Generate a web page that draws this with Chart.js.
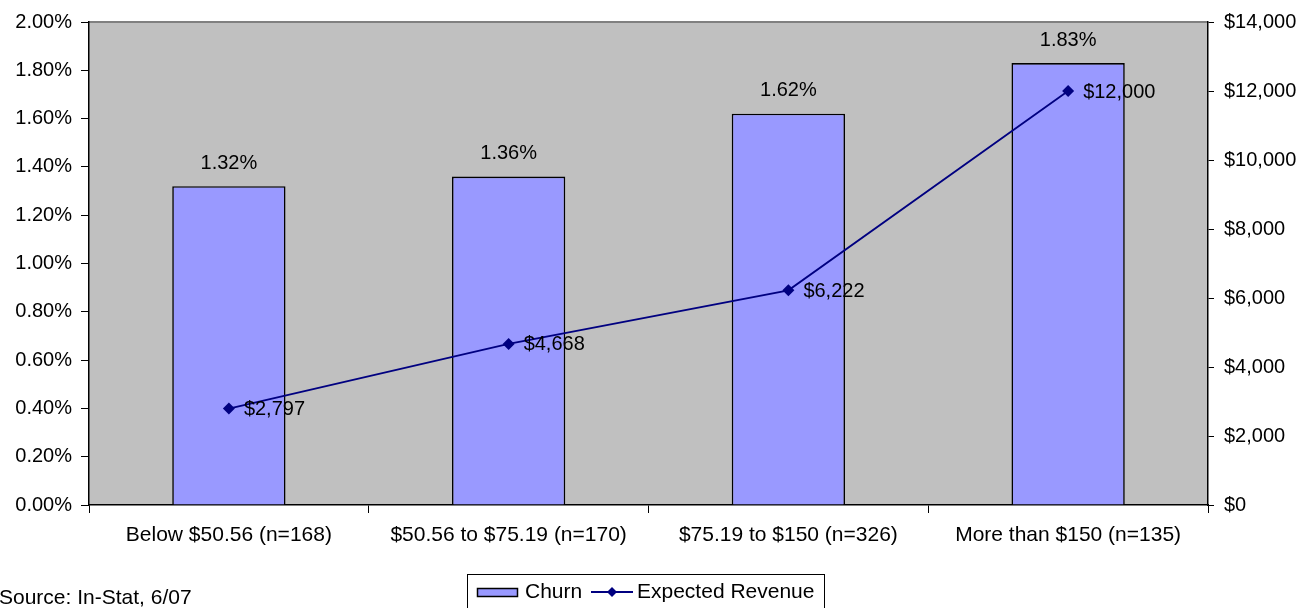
<!DOCTYPE html>
<html>
<head>
<meta charset="utf-8">
<script src="https://cdn.jsdelivr.net/npm/chart.js@4.4.1/dist/chart.umd.min.js"></script>
<style>
  html, body { margin: 0; padding: 0; background: #fff; }
  #wrap { width: 1312px; height: 608px; position: relative; }
</style>
</head>
<body>
<div id="wrap"><canvas id="chartChurn" width="1312" height="608"></canvas></div>
<script>
// dados do gráfico
const categories = ['Below $50.56 (n=168)', '$50.56 to $75.19 (n=170)', '$75.19 to $150 (n=326)', 'More than $150 (n=135)'];
const churnPct = [1.32, 1.36, 1.62, 1.83];
const expectedRevenue = [2797, 4668, 6222, 12000];
const sourceNote = 'Source: In-Stat, 6/07';

const FONT = 'Liberation Sans, Arial, sans-serif';
const BAR_COLOR = '#9999FF';
const LINE_COLOR = '#000080';

// fundo cinza da área de plotagem
const plotBackground = {
    id: 'plotBackground',
    beforeDraw(chart) {
        const { ctx, chartArea: a } = chart;
        ctx.save();
        ctx.fillStyle = '#C0C0C0';
        ctx.fillRect(a.left, a.top, a.right - a.left, a.bottom - a.top);
        ctx.strokeStyle = '#808080';
        ctx.lineWidth = 2;
        ctx.beginPath();
        ctx.moveTo(a.left, a.top);
        ctx.lineTo(a.right, a.top);
        ctx.stroke();
        ctx.restore();
    }
};

// rótulos de valores
const valueLabels = {
    id: 'valueLabels',
    afterDatasetsDraw(chart) {
        const { ctx } = chart;
        ctx.save();
        ctx.fillStyle = '#000';
        ctx.font = '20px ' + FONT;
        ctx.textBaseline = 'middle';

        const barMeta = chart.getDatasetMeta(0);
        ctx.textAlign = 'center';
        barMeta.data.forEach((el, i) => {
            ctx.fillText(churnPct[i].toFixed(2) + '%', el.x, el.y - 23);
        });

        const lineMeta = chart.getDatasetMeta(1);
        ctx.textAlign = 'left';
        lineMeta.data.forEach((el, i) => {
            ctx.fillText('$' + expectedRevenue[i].toLocaleString('en-US'), el.x + 15, el.y + 1);
        });
        ctx.restore();
    }
};

// legenda com moldura + nota de fonte
const boxedLegend = {
    id: 'boxedLegend',
    afterDraw(chart) {
        const { ctx } = chart;
        ctx.save();
        ctx.strokeStyle = '#000';
        ctx.lineWidth = 1;
        ctx.strokeRect(467.5, 574.5, 357, 40);

        const cy = 592;
        ctx.fillStyle = BAR_COLOR;
        ctx.fillRect(477, 588, 41, 9);
        ctx.lineWidth = 1.5;
        ctx.strokeRect(477.5, 588.5, 40, 8);

        ctx.fillStyle = '#000';
        ctx.font = '21px ' + FONT;
        ctx.textBaseline = 'middle';
        ctx.textAlign = 'left';
        ctx.fillText('Churn', 525, cy);

        ctx.strokeStyle = LINE_COLOR;
        ctx.lineWidth = 1.8;
        ctx.beginPath();
        ctx.moveTo(591, cy);
        ctx.lineTo(633, cy);
        ctx.stroke();
        ctx.fillStyle = LINE_COLOR;
        ctx.beginPath();
        ctx.moveTo(612, cy - 5);
        ctx.lineTo(617, cy);
        ctx.lineTo(612, cy + 5);
        ctx.lineTo(607, cy);
        ctx.closePath();
        ctx.fill();

        ctx.fillStyle = '#000';
        ctx.fillText('Expected Revenue', 637, cy);

        ctx.font = '21px ' + FONT;
        ctx.fillText(sourceNote, -1, 598);
        ctx.restore();
    }
};

new Chart(document.getElementById('chartChurn'), {
    type: 'bar',
    data: {
        labels: categories,
        datasets: [
            {
                type: 'bar',
                label: 'Churn',
                data: churnPct,
                yAxisID: 'y',
                backgroundColor: BAR_COLOR,
                borderColor: '#000',
                borderWidth: 1.6,
                categoryPercentage: 1,
                barPercentage: 0.405,
                order: 2
            },
            {
                type: 'line',
                label: 'Expected Revenue',
                data: expectedRevenue,
                yAxisID: 'y1',
                borderColor: LINE_COLOR,
                backgroundColor: LINE_COLOR,
                borderWidth: 1.8,
                pointStyle: 'rectRot',
                pointRadius: 6,
                pointBorderWidth: 0,
                tension: 0,
                order: 1
            }
        ]
    },
    options: {
        responsive: false,
        devicePixelRatio: 1,
        animation: false,
        layout: { padding: { top: 22, left: 0, right: 0, bottom: 0 } },
        plugins: {
            legend: { display: false },
            tooltip: { enabled: false }
        },
        scales: {
            x: {
                offset: true,
                grid: { drawOnChartArea: false, offset: true, tickLength: 8, tickColor: '#000' },
                border: { color: '#000', width: 1.5 },
                ticks: { color: '#000', font: { family: FONT, size: 21 }, padding: 10, maxRotation: 0 },
                afterFit(s) { s.height = 103; }
            },
            y: {
                position: 'left',
                min: 0,
                max: 2,
                grid: { drawOnChartArea: false, tickLength: 8, tickColor: '#000' },
                border: { color: '#000', width: 1.5 },
                ticks: {
                    stepSize: 0.2,
                    color: '#000',
                    font: { family: FONT, size: 20 },
                    padding: 9,
                    callback: v => v.toFixed(2) + '%'
                },
                afterFit(s) { s.width = 89; }
            },
            y1: {
                position: 'right',
                min: 0,
                max: 14000,
                grid: { drawOnChartArea: false, tickLength: 6, tickColor: '#000' },
                border: { color: '#000', width: 1.5 },
                ticks: {
                    stepSize: 2000,
                    color: '#000',
                    font: { family: FONT, size: 20 },
                    padding: 10,
                    callback: v => '$' + v.toLocaleString('en-US')
                },
                afterFit(s) { s.width = 104; }
            }
        }
    },
    plugins: [plotBackground, valueLabels, boxedLegend]
});
</script>
</body>
</html>
